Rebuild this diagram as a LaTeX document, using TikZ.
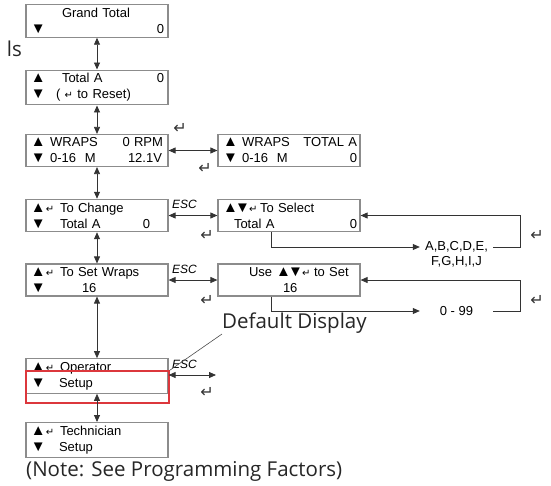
\documentclass[tikz,border=0pt]{standalone}
\usepackage{fontspec}
\setmainfont{Liberation Sans}
\newfontfamily\retfont{DejaVu Sans}
\newfontfamily\bigfont{Open Sans}
\usetikzlibrary{arrows.meta,positioning}
\definecolor{hired}{RGB}{220,55,60}

% place text at a distance from the left edge of a box
\newcommand\at[2]{\leavevmode\rlap{\hspace*{#1pt}#2}}
\newcommand\atr[2]{\leavevmode\rlap{\hspace*{#1pt}\llap{#2}}}
\newcommand\ret{{\retfont\fontsize{10}{10}\selectfont ↵}}
\newcommand\up{{\fontsize{15}{15}\selectfont▲}}
\newcommand\dn{{\fontsize{15}{15}\selectfont▼}}

\tikzset{
  lcd/.style={draw=black!45, line width=1.2pt, minimum height=31pt, text width=142pt,
    inner xsep=0pt, align=left, font=\fontsize{13}{16}\selectfont},
  dbl/.style={{Triangle[length=7pt,width=6pt]}-{Triangle[length=7pt,width=6pt]}, black!80, line width=0.8pt},
  one/.style={-{Triangle[length=7pt,width=6pt]}, black!80, line width=0.8pt},
  esc/.style={font=\fontsize{12}{12}\selectfont\itshape, inner sep=0pt},
  retsym/.style={font=\retfont\fontsize{16}{16}\selectfont, inner sep=0pt, text=black!80},
  big/.style={font=\bigfont\fontsize{20.5}{20.5}\selectfont, text=black!85, inner sep=0pt},
  choice/.style={font=\fontsize{13}{15}\selectfont, minimum width=73pt, inner sep=0pt}
}

\begin{document}
\begin{tikzpicture}[x=1pt,y=-1pt]
  \useasboundingbox (0,0) rectangle (551,485);

  % main column
  \node[lcd] (gt) at (97,21) {\at{36}{Grand Total}\\ \at{5}{\dn}\atr{138}{0}};
  \node[lcd] (ta) at (97,87.5) {\at{5}{\up}\at{36}{Total A}\atr{138}{0}\\ \at{5}{\dn}\at{30}{( \ret\ to Reset)}};
  \node[lcd] (wr) at (97,150.5) {\at{5}{\up\ WRAPS}\atr{137}{0 RPM}\\ \at{5}{\dn\ 0-16}\at{59}{M}\atr{136}{12.1V}};
  \node[lcd] (ch) at (97,215.5) {\at{5}{\up}\at{20}{\ret}\at{34}{To Change}\\ \at{5}{\dn}\at{34}{Total A}\atr{124}{0}};
  \node[lcd] (sw) at (97,280) {\at{5}{\up}\at{20}{\ret}\at{34}{To Set Wraps}\\ \at{5}{\dn}\at{56}{16}};
  \node[lcd] (op) at (97,376) {\at{5}{\up}\at{20}{\ret}\at{34}{Operator}\\ \at{5}{\dn}\at{33}{Setup}};
  \node[lcd] (tech) at (97,440) {\at{5}{\up}\at{20}{\ret}\at{34}{Technician}\\ \at{5}{\dn}\at{33}{Setup}};

  % second column
  \node[lcd] (wt) at (289,150.5) {\at{5}{\up\ WRAPS}\atr{139}{TOTAL A}\\ \at{5}{\dn\ 0-16}\at{59}{M}\atr{139}{0}};
  \node[lcd] (sel) at (289,215.5) {\at{5}{\up}\at{17}{\dn}\at{31}{\ret}\at{42}{To Select}\\ \at{16}{Total A}\atr{139}{0}};
  \node[lcd] (use) at (289,280) {\at{31}{Use}\at{58}{\up}\at{70}{\dn}\at{84}{\ret}\at{96}{to Set}\\ \at{65}{16}};

  % highlight of the default display
  \node[draw=hired, line width=1.2pt, minimum width=143pt, minimum height=32pt, inner sep=0pt] (hl) at (97.5,387) {};

  \draw[dbl] (gt) -- (ta);
  \draw[dbl] (ta) -- (wr);
  \draw[dbl] (wr) -- (ch);
  \draw[dbl] (ch) -- (sw);
  \draw[dbl] (sw) -- (op);
  \draw[dbl] (op) -- (tech);

  \draw[dbl] (wr) -- (wt);
  \draw[dbl] (ch) -- (sel);
  \draw[dbl] (sw) -- (use);
  \coordinate (opend) at (216,375);
  \draw[dbl] (op.east |- opend) -- (opend);

  \node[esc, anchor=south west] (esc1) at (172,209) {ESC};
  \node[esc, anchor=south west] (esc2) at (172,274) {ESC};
  \node[esc, anchor=south west] (esc3) at (172,369) {ESC};

  \node[retsym] (r1) at (180,128) {↵};
  \node[retsym] (r2) at (205,168) {↵};
  \node[retsym] (r3) at (207,235) {↵};
  \node[retsym] (r4) at (207,300) {↵};
  \node[retsym] (r5) at (207,392) {↵};
  \node[retsym] (r6) at (537,235) {↵};
  \node[retsym] (r7) at (537,300) {↵};

  % choices
  \node[choice] (abc) at (456.5,247) {A,B,C,D,E,};
  \node[choice] (fgh) at (456.5,262) {F,G,H,I,J};
  \node[choice] (num) at (456.5,311) {0 - 99};

  \draw[one] ([xshift=-18pt]sel.south) |- (abc.west);
  \draw[one] (abc.east) -- ++(27,0) |- (sel.east);
  \draw[one] ([xshift=-18pt]use.south) |- (num.west);
  \draw[one] (num.east) -- ++(27,0) |- (use.east);

  \node[big, anchor=south west] (dd) at (222,334) {Default Display};
  \draw[black!70, line width=0.6pt] (dd.south west) -- (hl.north east);

  \node[big, anchor=south west] (note) at (26,482) {(Note: See Programming Factors)};
  \node[big, anchor=south east] (ls) at (22,57) {ls};
\end{tikzpicture}
\end{document}
